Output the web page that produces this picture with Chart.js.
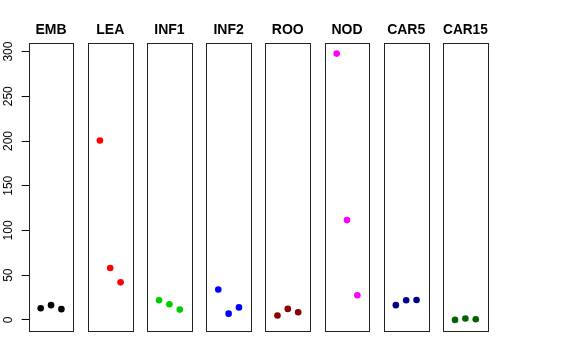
<!DOCTYPE html>
<html>
<head>
<meta charset="utf-8">
<script src="https://cdn.jsdelivr.net/npm/chart.js@4"></script>
<style>
  html, body { margin: 0; padding: 0; background: #fff; }
  #wrap { position: relative; width: 576px; height: 360px; overflow: hidden; }
  #wrap canvas { position: absolute; top: 0; }
</style>
</head>
<body>
<div id="wrap"></div>
<script>
// panel names and point colours
const panels = ['EMB', 'LEA', 'INF1', 'INF2', 'ROO', 'NOD', 'CAR5', 'CAR15'];
const colors = ['#000000', '#FF0000', '#00CD00', '#0000FF', '#8B0000', '#FF00FF', '#00008B', '#006400'];

// x positions of the three samples in each panel
const positions = [1, 2, 3];

// values per panel
const embValues = [13, 16.5, 12];
const leaValues = [200.5, 58, 42];
const inf1Values = [22, 17.5, 11.5];
const inf2Values = [34, 7, 14];
const rooValues = [5, 12.3, 8.5];
const nodValues = [297.7, 111.6, 27.5];
const car5Values = [16.5, 22, 22.3];
const car15Values = [0, 1.5, 0.7];
const allValues = [embValues, leaValues, inf1Values, inf2Values, rooValues, nodValues, car5Values, car15Values];

// y axis ticks
const yTicks = [0, 50, 100, 150, 200, 250, 300];

// axis limits (R style 4% extension)
const yMin = -12.4, yMax = 309.9;
const xMin = -0.16, xMax = 4.16;

// layout
const firstLeft = 28.7, step = 59.19, panelW = 44.7, side = 29;
const H = 360;

// draws the frame round each panel
const boxPlugin = {
    id: 'box',
    afterDraw(chart) {
        const a = chart.chartArea;
        const c = chart.ctx;
        c.save();
        c.strokeStyle = '#222';
        c.lineWidth = 1;
        c.strokeRect(Math.round(a.left) + 0.5, Math.round(a.top) + 0.5,
            Math.round(a.right) - Math.round(a.left), Math.round(a.bottom) - Math.round(a.top));
        c.restore();
    }
};

const wrap = document.getElementById('wrap');

panels.forEach((name, i) => {
    const panelLeft = firstLeft + i * step;
    const canvasLeft = i === 0 ? 0 : Math.round(panelLeft - side);
    const padL = panelLeft - canvasLeft;
    const width = i === 0 ? Math.round(2 * panelLeft + panelW) : 103;
    const padR = width - padL - panelW;

    const canvas = document.createElement('canvas');
    canvas.width = width;
    canvas.height = H;
    canvas.style.left = canvasLeft + 'px';
    canvas.style.width = width + 'px';
    canvas.style.height = H + 'px';
    wrap.appendChild(canvas);

    const showY = i === 0;

    new Chart(canvas.getContext('2d'), {
        type: 'scatter',
        data: {
            datasets: [{
                label: name,
                data: allValues[i].map((v, j) => ({ x: positions[j], y: v })),
                backgroundColor: colors[i],
                borderColor: colors[i],
                borderWidth: 0,
                pointRadius: 3.3,
                pointHoverRadius: 3.3
            }]
        },
        options: {
            responsive: false,
            animation: false,
            events: [],
            layout: {
                padding: { left: showY ? 0 : padL, right: padR, top: 0, bottom: 29 }
            },
            scales: {
                x: {
                    type: 'linear',
                    min: xMin,
                    max: xMax,
                    display: false
                },
                y: {
                    type: 'linear',
                    min: yMin,
                    max: yMax,
                    display: showY,
                    position: 'left',
                    afterBuildTicks: s => { s.ticks = yTicks.map(v => ({ value: v })); },
                    afterFit: s => { if (showY) s.width = padL; },
                    border: { display: false },
                    grid: {
                        drawOnChartArea: false,
                        drawTicks: true,
                        tickLength: 7,
                        color: '#000'
                    },
                    ticks: {
                        color: '#000',
                        font: { family: 'Liberation Sans', size: 12 },
                        minRotation: 90,
                        maxRotation: 90,
                        crossAlign: 'center',
                        padding: 3.5
                    }
                }
            },
            plugins: {
                legend: { display: false },
                tooltip: { enabled: false },
                title: {
                    display: true,
                    text: name,
                    fullSize: !showY,
                    color: '#000',
                    font: { family: 'Liberation Sans', size: 14, weight: 'bold' },
                    padding: { top: 21.8, bottom: 4.1 }
                }
            }
        },
        plugins: [boxPlugin]
    });
});
</script>
</body>
</html>
